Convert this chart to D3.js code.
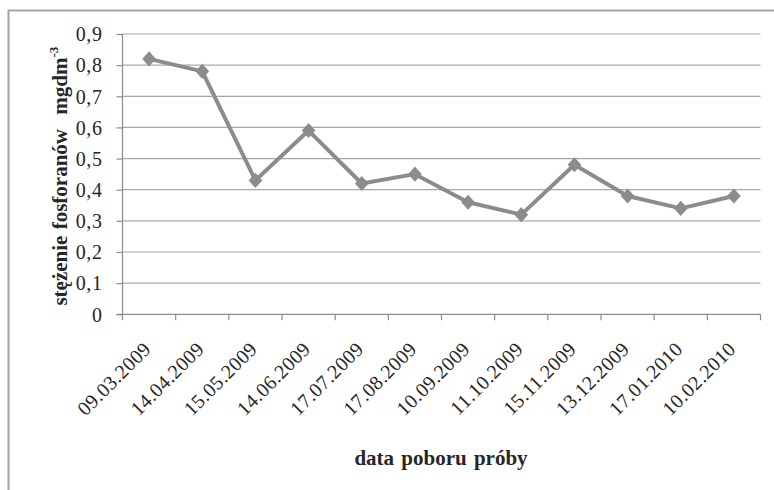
<!DOCTYPE html>
<html><head><meta charset="utf-8">
<script src="https://cdn.jsdelivr.net/npm/d3@7"></script>
<style>body{margin:0;background:#fff}svg{display:block}</style>
</head><body>
<script>
const categories = ["09.03.2009","14.04.2009","15.05.2009","14.06.2009","17.07.2009","17.08.2009","10.09.2009","11.10.2009","15.11.2009","13.12.2009","17.01.2010","10.02.2010"];
const values = [0.82,0.78,0.43,0.59,0.42,0.45,0.36,0.32,0.48,0.38,0.34,0.38];
const yTicks = [0,0.1,0.2,0.3,0.4,0.5,0.6,0.7,0.8,0.9];
const yTitleMain = "stężenie fosforanów";
const yTitleUnit = "mgdm";
const yTitleSup = "-3";
const xTitle = "data poboru próby";

const W = 774, H = 490;
const svg = d3.select("body").append("svg").attr("width", W).attr("height", H);
const L = 122.5, R = 760.5, T = 34, B = 314.3;
const font = "'Liberation Serif','Times New Roman',serif";
const textCol = "#262626";

// outer border
svg.append("path").attr("d", `M8.5,${H} L8.5,10.5 L${W},10.5`).attr("fill","none").attr("stroke","#a6a6a6").attr("stroke-width",2);

const x = d3.scaleBand().domain(categories).range([L, R]).padding(0);
const y = d3.scaleLinear().domain([0, 0.9]).range([B, T]);

// gridlines
svg.append("g").selectAll("line").data(yTicks.filter(d=>d>0)).join("line")
  .attr("x1", L).attr("x2", R).attr("y1", d=>y(d)).attr("y2", d=>y(d))
  .attr("stroke","#a8a8a8").attr("stroke-width",1.2);

// y axis
const yAxis = d3.axisLeft(y).tickValues(yTicks).tickSize(6).tickPadding(14)
  .tickFormat(d => d===0 ? "0" : d3.format(".1f")(d).replace(".", ","));
const gy = svg.append("g").attr("transform", `translate(${L},0)`).call(yAxis);
gy.select(".domain").attr("stroke","#8c8c8c").attr("stroke-width",1.2).attr("d", `M-6,${B}H0V${T}`);
gy.selectAll(".tick line").attr("stroke","#8c8c8c").attr("stroke-width",1.2);
gy.selectAll(".tick text").attr("font-family", font).attr("font-size", 20).attr("fill", textCol)
  .attr("dy", "0.34em").attr("letter-spacing", 0.6);

// x axis
const xAxis = d3.axisBottom(x).tickSize(0).tickPadding(0);
const gx = svg.append("g").attr("transform", `translate(0,${B})`).call(xAxis);
gx.select(".domain").attr("stroke","#8c8c8c").attr("stroke-width",1.2).attr("d", `M${L},0H${R}`);
// boundary ticks
gx.append("g").selectAll("line").data(d3.range(categories.length+1)).join("line")
  .attr("x1", i => L + i*x.step()).attr("x2", i => L + i*x.step())
  .attr("y1", 0).attr("y2", 6).attr("stroke","#8c8c8c").attr("stroke-width",1.2);
gx.selectAll(".tick text")
  .attr("font-family", font).attr("font-size", 20).attr("fill", textCol)
  .attr("text-anchor","end").attr("dy", 0).attr("y", 0).attr("letter-spacing", 0.4)
  .attr("transform", "translate(3,36) rotate(-45)");

// line
const line = d3.line().x((d,i)=>x(categories[i]) + x.bandwidth()/2).y(d=>y(d));
svg.append("path").datum(values).attr("d", line).attr("fill","none")
  .attr("stroke","#8c8c8c").attr("stroke-width",4).attr("stroke-linejoin","round");
svg.append("g").selectAll("path").data(values).join("path")
  .attr("d", d3.symbol(d3.symbolDiamond2, 120))
  .attr("transform", (d,i)=>`translate(${x(categories[i]) + x.bandwidth()/2},${y(d)}) scale(1,1.1)`)
  .attr("fill","#8c8c8c");

// y title
const yt = svg.append("text").attr("transform", `translate(67,${(T+B)/2 + 2}) rotate(-90)`)
  .attr("text-anchor","middle").attr("font-family", font).attr("font-weight","bold")
  .attr("font-size", 21).attr("fill", textCol).attr("word-spacing", 1);
yt.append("tspan").text(yTitleMain + " ");
yt.append("tspan").attr("dx", 8).text(yTitleUnit);
yt.append("tspan").attr("font-size", 13).attr("dy", -9).text(yTitleSup);

// x title
svg.append("text").attr("x", 441).attr("y", 465).attr("text-anchor","middle")
  .attr("font-family", font).attr("font-weight","bold").attr("font-size", 21)
  .attr("fill", textCol).attr("word-spacing", 2).text(xTitle);
</script>
</body></html>
